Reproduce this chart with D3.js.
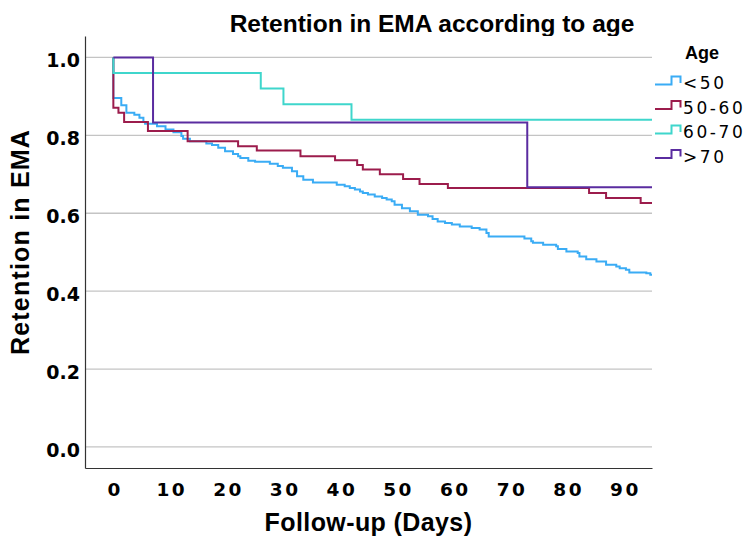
<!DOCTYPE html>
<html>
<head>
<meta charset="utf-8">
<title>Retention in EMA according to age</title>
<script src="https://cdn.jsdelivr.net/npm/d3@7"></script>
<style type="text/css">
body { margin: 0; background: #ffffff; }
text { font-family: "Liberation Sans", Arial, sans-serif; fill: #000; }
.tick text { font-family: "DejaVu Sans", sans-serif; font-weight: bold; }
.yaxis .tick text { font-size: 19px; }
.xaxis .tick text { font-size: 18.5px; letter-spacing: 2.5px; }
.domain { stroke: #333; stroke-width: 1.2px; }
</style>
</head>
<body>
<div id="chart"></div>
<script type="text/javascript">

// groups and colours
var groups = ["<50", "50-60", "60-70", ">70"];
var colors = ["#3aacf5", "#9c1c4c", "#3fd6cc", "#5a2ca0"];

// tick labels
var xTicks = [0, 10, 20, 30, 40, 50, 60, 70, 80, 90];
var yTicks = [0.0, 0.2, 0.4, 0.6, 0.8, 1.0];

// survival steps: [day, retention after the drop], all start at 1.0 on day 0
var under50 = [[0, 0.896], [1.4, 0.877], [2.3, 0.858], [3.7, 0.853], [4.6, 0.845], [5.3, 0.834],
  [5.6, 0.830], [7.7, 0.823], [9.2, 0.815], [10.6, 0.808], [12.0, 0.798], [12.3, 0.791],
  [13.5, 0.785], [16.4, 0.779], [17.4, 0.775], [18.5, 0.768], [19.7, 0.759], [21.1, 0.752],
  [22.0, 0.746], [22.4, 0.742], [23.8, 0.735], [25.0, 0.732], [27.6, 0.727], [29.0, 0.721],
  [29.9, 0.717], [31.5, 0.708], [32.4, 0.695], [33.5, 0.686], [35.2, 0.679], [39.4, 0.673],
  [40.8, 0.669], [41.7, 0.665], [42.6, 0.661], [43.5, 0.656], [44.0, 0.652], [44.9, 0.648],
  [46.1, 0.643], [47.4, 0.639], [48.2, 0.635], [49.1, 0.631], [49.6, 0.622], [50.9, 0.613],
  [52.3, 0.605], [53.7, 0.596], [55.5, 0.592], [56.3, 0.585], [57.2, 0.579], [58.5, 0.575],
  [59.7, 0.571], [61.1, 0.566], [63.2, 0.562], [64.6, 0.558], [65.8, 0.549], [66.2, 0.540],
  [72.5, 0.535], [73.7, 0.528], [74.0, 0.524], [75.8, 0.519], [78.1, 0.515], [78.4, 0.508],
  [79.9, 0.502], [81.9, 0.498], [82.2, 0.489], [83.4, 0.482], [85.2, 0.476], [86.9, 0.468],
  [88.7, 0.463], [89.3, 0.459], [90.4, 0.455], [91.0, 0.448], [94.0, 0.446], [94.7, 0.442]];

var age50to60 = [[0, 0.871], [0.9, 0.858], [1.9, 0.834], [6.1, 0.811], [13.1, 0.785],
  [22.0, 0.772], [25.3, 0.761], [33.0, 0.746], [39.1, 0.736], [43.0, 0.724], [44.0, 0.712],
  [47.0, 0.700], [51.1, 0.688], [54.0, 0.675], [59.0, 0.665], [83.9, 0.652], [86.9, 0.639],
  [93.0, 0.626]];

var age60to70 = [[0, 0.96], [26.0, 0.92], [30.0, 0.88], [42.0, 0.84]];

var over70 = [[7.0, 0.833], [73.0, 0.667]];

var series = [under50, age50to60, age60to70, over70];
var lastDay = 95;

// plot frame
var width = 752, height = 538;
var plot = {left: 85, right: 652, top: 36, bottom: 468};

var svg = d3.select("#chart")
  .append("svg")
    .attr("width", width)
    .attr("height", height);

var x = d3.scaleLinear()
  .domain([-5, 95])
  .range([plot.left, plot.right]);

var y = d3.scaleLinear()
  .domain([-0.054, 1.055])
  .range([plot.bottom, plot.top]);

// title, clipped at the top of the plot like the original
svg.append("clipPath")
    .attr("id", "titleClip")
  .append("rect")
    .attr("x", 0).attr("y", 0)
    .attr("width", width).attr("height", plot.top);

svg.append("text")
    .attr("clip-path", "url(#titleClip)")
    .attr("x", 432)
    .attr("y", 31.5)
    .attr("text-anchor", "middle")
    .style("font-weight", "bold")
    .style("font-size", "24.5px")
    .text("Retention in EMA according to age");

// grid lines
svg.append("g")
  .selectAll("line")
  .data(yTicks)
  .enter()
  .append("line")
    .attr("x1", plot.left)
    .attr("x2", plot.right)
    .attr("y1", function(d) { return y(d); })
    .attr("y2", function(d) { return y(d); })
    .attr("stroke", "#c4c4c4")
    .attr("stroke-width", 1.3);

// axes
svg.append("g")
  .attr("class", "yaxis")
  .attr("transform", "translate(" + plot.left + ",0)")
  .call(d3.axisLeft(y).tickValues(yTicks).tickFormat(d3.format(".1f")).tickSize(0).tickPadding(5))
  .selectAll("text")
    .attr("dy", "0.48em");

svg.append("g")
  .attr("class", "xaxis")
  .attr("transform", "translate(0," + plot.bottom + ")")
  .call(d3.axisBottom(x).tickValues(xTicks).tickFormat(d3.format("d")).tickSize(0).tickPadding(14.5))
  .selectAll("text")
    .attr("dx", "1.25px");

svg.append("text")
    .attr("transform", "translate(29,242) rotate(-90)")
    .attr("text-anchor", "middle")
    .style("font-weight", "bold")
    .style("font-size", "25px")
    .style("letter-spacing", "1.2px")
    .text("Retention in EMA");

svg.append("text")
    .attr("x", (plot.left + plot.right) / 2)
    .attr("y", 531)
    .attr("text-anchor", "middle")
    .style("font-weight", "bold")
    .style("font-size", "25px")
    .style("letter-spacing", "0.4px")
    .text("Follow-up (Days)");

// step lines
var line = d3.line()
  .x(function(d) { return x(d[0]); })
  .y(function(d) { return y(d[1]); })
  .curve(d3.curveStepAfter);

svg.append("g")
  .selectAll("path")
  .data(series)
  .enter()
  .append("path")
    .attr("d", function(s) {
      var pts = [[0, 1]].concat(s);
      pts.push([lastDay, s[s.length - 1][1]]);
      return line(pts);
    })
    .attr("fill", "none")
    .attr("stroke", function(d, i) { return colors[i]; })
    .attr("stroke-width", 2);

// legend
var legend = svg.append("g").attr("transform", "translate(655,0)");

legend.append("text")
    .attr("x", 30)
    .attr("y", 59)
    .style("font-weight", "bold")
    .style("font-size", "18px")
    .text("Age");

var item = legend.selectAll(".item")
  .data(groups)
  .enter()
  .append("g")
    .attr("class", "item")
    .attr("transform", function(d, i) { return "translate(0," + (89 + i * 24.5) + ")"; });

item.append("path")
    .attr("d", "M0,-4.5H16.5V-12.5H25.5V-6")
    .attr("fill", "none")
    .attr("stroke", function(d, i) { return colors[i]; })
    .attr("stroke-width", 2);

item.append("text")
    .attr("x", 28)
    .style("font-family", "'DejaVu Sans', sans-serif")
    .style("font-size", "17px")
    .style("letter-spacing", "2.6px")
    .text(function(d) { return d; });

</script>
</body>
</html>
